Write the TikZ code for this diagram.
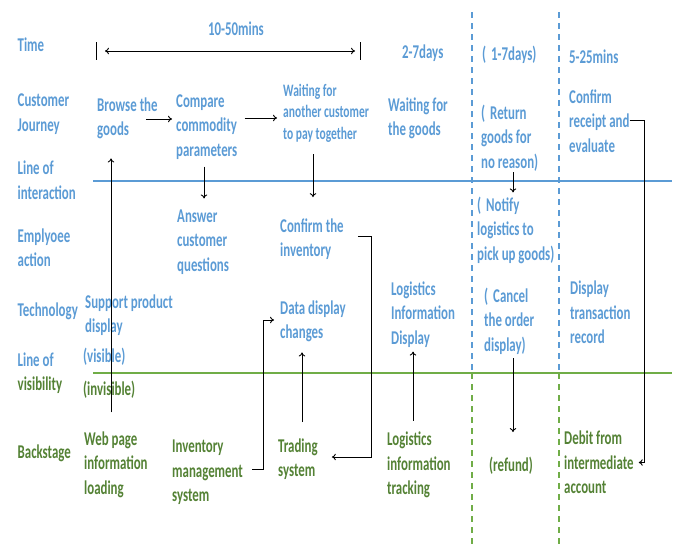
\documentclass[tikz,border=0pt]{standalone}
\usepackage{fontspec}
\setmainfont[FakeStretch=0.66]{Carlito}
\usetikzlibrary{arrows.meta}
\definecolor{jblue}{HTML}{5B9BD5}
\definecolor{jgreen}{HTML}{548235}
\definecolor{lgreen}{HTML}{70AD47}
\tikzset{
  txt/.style={anchor=west, inner sep=0pt, align=left, font=\fontsize{19.5}{24.5}\selectfont\bfseries},
  bl/.style={txt, text=jblue},
  gr/.style={txt, text=jgreen},
  link/.style={line width=0.9pt, ->},
  lane/.style={line width=1.2pt, dash pattern=on 6pt off 5pt},
  >={To[length=4pt,width=6.5pt]}
}

\begin{document}
\begin{tikzpicture}[x=1pt,y=-1pt]
\useasboundingbox (0,0) rectangle (676,544);

\draw[jblue, line width=1.2pt] (93,181) -- (672,181);
\draw[lgreen, line width=1.5pt] (93,373) -- (672,373);
\foreach \x in {472,559} {
  \draw[lane, jblue] (\x,12) -- (\x,373);
  \draw[lane, lgreen] (\x,373) -- (\x,544);
}

% row labels
\node[bl] (time) at (17.5,45) {Time};
\node[bl] (journey) at (17.5,114) {Customer\\Journey};
\node[bl] (interaction) at (17.5,180) {Line of\\interaction};
\node[bl] (employee) at (17.5,247.5) {Emplyoee\\action};
\node[bl] (technology) at (17.5,311) {Technology};
\node[gr] (visibility) at (17.5,373) {{\color{jblue}Line of}\\visibility};
\node[gr] (backstage) at (17.5,453) {Backstage};

% time
\node[bl, anchor=center] (span) at (236,29) {10-50mins};
\coordinate (tl) at (105,51);
\coordinate (tr) at (355,51);
\draw[line width=0.9pt] (96.5,42) -- (96.5,60);
\draw[line width=0.9pt] (360,42) -- (360,60);
\draw[link, <->] (tl) -- (tr);
\node[bl] (days) at (402,53) {2-7days};
\node[bl] (returndays) at (482,55) {(\hspace{5pt}1-7days)};
\node[bl] (mins) at (569,57) {5-25mins};

% customer journey
\node[bl] (browse) at (97,118.5) {Browse the\\goods};
\node[bl] (compare) at (176,127) {Compare\\commodity\\parameters};
\node[bl, font=\fontsize{17.5}{21.5}\selectfont\bfseries] (waitpay) at (283,113)
  {Waiting for\\another customer\\to pay together};
\node[bl] (waitgoods) at (388,118.5) {Waiting for\\the goods};
\node[bl] (return) at (481,138) {(\hspace{5pt}Return\\goods for\\no reason)};
\node[bl] (confirm) at (569,121) {Confirm\\receipt and\\evaluate};

% employee action
\node[bl] (answer) at (177,242) {Answer\\customer\\questions};
\node[bl] (confirminv) at (280,239) {Confirm the\\inventory};
\node[bl] (notify) at (477,230) {(\hspace{5pt}Notify\\logistics to\\pick up goods)};

% technology
\node[bl] (support) at (85,315) {Support product\\display};
\node[bl] (visible) at (83,357) {(visible)};
\node[bl] (datadisp) at (280,321.5) {Data display\\changes};
\node[bl] (logdisp) at (391,314.5) {Logistics\\Information\\Display};
\node[bl] (cancel) at (484,321) {(\hspace{5pt}Cancel\\the order\\display)};
\node[bl] (record) at (570,312.5) {Display\\transaction\\record};

% backstage
\node[gr] (invisible) at (83,390) {(invisible)};
\node[gr] (webpage) at (84,464.5) {Web page\\information\\loading};
\node[gr] (inventory) at (172,472.5) {Inventory\\management\\system};
\node[gr] (trading) at (278,459) {Trading\\system};
\node[gr] (tracking) at (387,465) {Logistics\\information\\tracking};
\node[gr] (refund) at (489,466) {(refund)};
\node[gr] (debit) at (564,462.5) {Debit from\\intermediate\\account};

% connectors
\draw[link] ([xshift=-12pt,yshift=-0.5pt]browse.east) -- ([xshift=-4pt,yshift=-0.5pt]browse.east -| compare.west);
\draw[link] ([xshift=7pt,yshift=9pt]compare.east) -- ([xshift=-6pt,yshift=9pt]compare.east -| waitpay.west);
\draw[link] ([shift={(27,-19)}]webpage.north west) -- ([shift={(14,19)}]browse.south west);
\draw[link] ([shift={(28,7)}]compare.south west) -- ([shift={(27,-11)}]answer.north west);
\draw[link] ([shift={(30,12)}]waitpay.south west) -- ([shift={(33,-21)}]confirminv.north west);
\draw[link] ([shift={(32,1)}]return.south west) -- ([shift={(36,-4)}]notify.north west);
\draw[link] ([shift={(24,-16)}]trading.north west) -- ([shift={(22,10)}]datadisp.south west);
\draw[link] ([shift={(26,-11)}]tracking.north west) -- ([shift={(22,4)}]logdisp.south west);
\draw[link] ([shift={(29,4)}]cancel.south west) -- ([shift={(24,-25)}]refund.north west);
\draw[link] ([shift={(0,-1)}]confirm.east) -- ++(15,0) |- ([shift={(5,0)}]debit.east);
\draw[link] ([shift={(14,-3)}]confirminv.east) -- ++(14,0) |- ([shift={(14,-2)}]trading.east);
\draw[link] ([shift={(9,-3)}]inventory.east) -- ++(11,0) |- ([shift={(-6,-1.5)}]datadisp.west);

\end{tikzpicture}
\end{document}
